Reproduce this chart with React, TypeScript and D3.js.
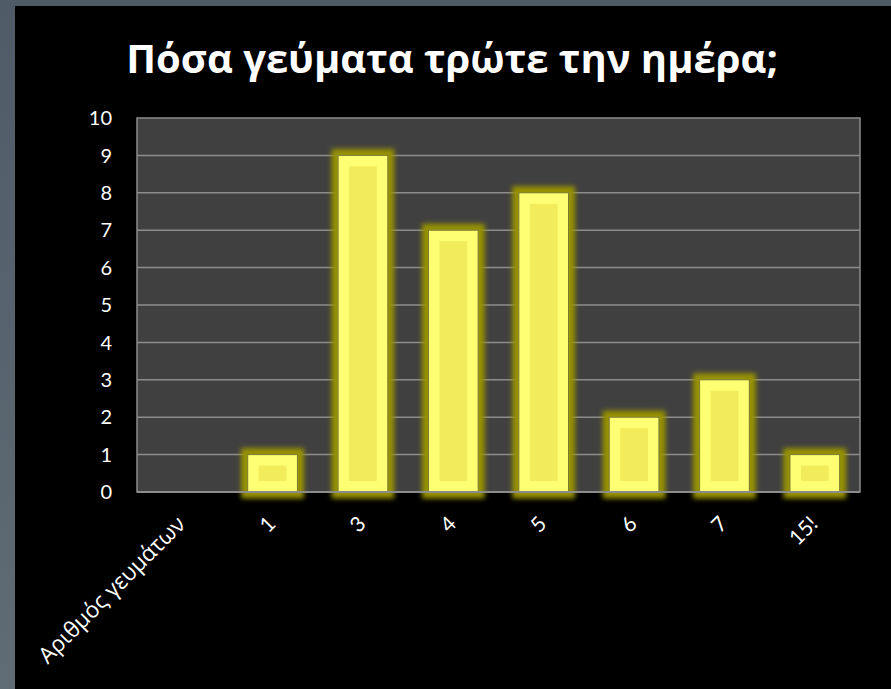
import React from "react";
import * as d3 from "d3";

const title = "Πόσα γεύματα τρώτε την ημέρα;";
const categories = ["Αριθμός γευμάτων", "1", "3", "4", "5", "6", "7", "15!"];
const values = [0, 1, 9, 7, 8, 2, 3, 1];
const yTicks = [0, 1, 2, 3, 4, 5, 6, 7, 8, 9, 10];

const W = 891;
const H = 689;
const plot = { left: 137, right: 860, top: 118, bottom: 492 };

export default function App() {
  const x = d3
    .scaleBand<string>()
    .domain(categories)
    .range([plot.left, plot.right])
    .paddingInner(0.45)
    .paddingOuter(0.225);
  const y = d3.scaleLinear().domain([0, 10]).range([plot.bottom, plot.top]);
  const bw = x.bandwidth();
  const inset = 11;

  return (
    <div style={{ position: "fixed", left: 0, top: 0, width: W, height: H }}>
      <svg width={W} height={H} style={{ display: "block" }}>
        <defs>
          <linearGradient id="bgGrad" x1="0" y1="0" x2="0" y2="1">
            <stop offset="0" stopColor="#4f5b66" />
            <stop offset="1" stopColor="#5f6b75" />
          </linearGradient>
          <filter id="glow" x="-50%" y="-50%" width="200%" height="200%">
            <feMorphology in="SourceAlpha" operator="dilate" radius="6" result="d" />
            <feGaussianBlur in="d" stdDeviation="2.5" result="b" />
            <feFlood floodColor="#979200" result="c" />
            <feComposite in="c" in2="b" operator="in" result="g" />
            <feMerge>
              <feMergeNode in="g" />
              <feMergeNode in="SourceGraphic" />
            </feMerge>
          </filter>
        </defs>
        <rect x={0} y={0} width={W} height={H} fill="url(#bgGrad)" />
        <rect x={15} y={6} width={W - 15} height={H - 6} fill="#000000" />
        <text
          x={452}
          y={73}
          textAnchor="middle"
          fill="#ffffff"
          fontFamily="'Open Sans', sans-serif"
          fontWeight={700}
          fontSize={40}
        >
          {title}
        </text>
        <rect
          x={plot.left}
          y={plot.top}
          width={plot.right - plot.left}
          height={plot.bottom - plot.top}
          fill="#404040"
          stroke="#8c8c8c"
          strokeWidth={1.5}
        />
        {yTicks.slice(1, -1).map((t) => (
          <line
            key={"g" + t}
            x1={plot.left}
            x2={plot.right}
            y1={y(t)}
            y2={y(t)}
            stroke="#8c8c8c"
            strokeWidth={1.5}
          />
        ))}
        {yTicks.map((t) => (
          <text
            key={"y" + t}
            x={112}
            y={y(t)}
            dy="0.36em"
            textAnchor="end"
            fill="#ffffff"
            fontFamily="Lato, sans-serif"
            fontSize={20}
          >
            {t}
          </text>
        ))}
        {categories.map((c, i) =>
          values[i] > 0 ? (
            <g key={"b" + c} filter="url(#glow)">
              <rect
                x={x(c)!}
                y={y(values[i])}
                width={bw}
                height={plot.bottom - y(values[i])}
                fill="#ffff73"
                stroke="#7a7a30"
                strokeWidth={1}
              />
              <rect
                x={x(c)! + inset}
                y={y(values[i]) + inset}
                width={bw - 2 * inset}
                height={Math.max(0, plot.bottom - y(values[i]) - 2 * inset)}
                fill="#f2ec5c"
              />
            </g>
          ) : null
        )}
        <line
          x1={plot.left}
          x2={plot.right}
          y1={plot.bottom}
          y2={plot.bottom}
          stroke="#8c8c8c"
          strokeWidth={2}
        />
        {categories.map((c, i) => (
          <text
            key={"x" + c}
            transform={`translate(${x(c)! + bw / 2 - 1},${520}) rotate(-45)`}
            textAnchor="end"
            dy="0.35em"
            fill="#ffffff"
            fontFamily={i === 0 ? "'Open Sans', sans-serif" : "Lato, sans-serif"}
            fontSize={i === 0 ? 22.5 : 21}
          >
            {c}
          </text>
        ))}
      </svg>
    </div>
  );
}
